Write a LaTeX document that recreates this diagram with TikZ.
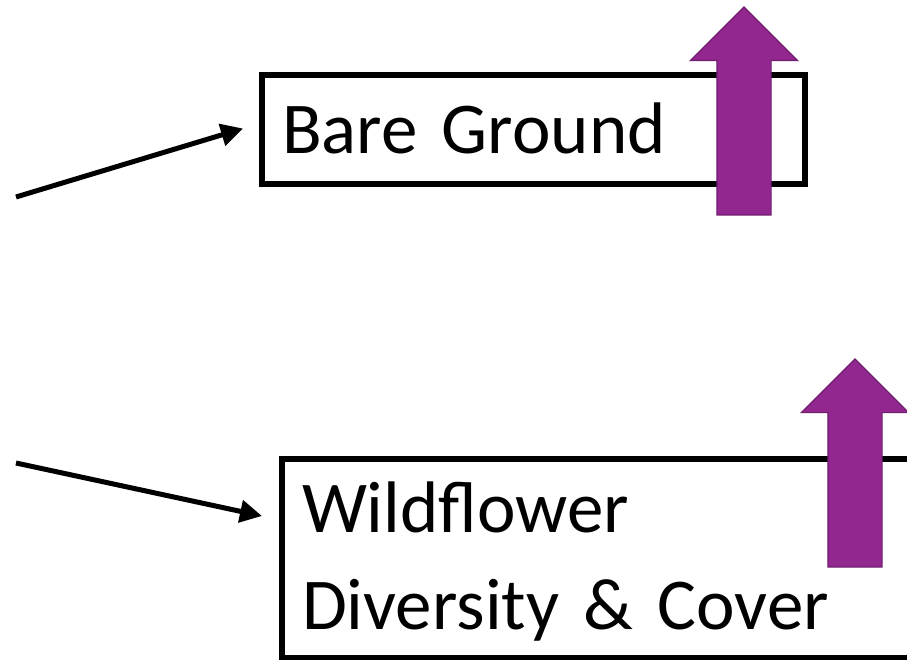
\documentclass[tikz,border=0pt]{standalone}
\usepackage{fontspec}
\setmainfont{Carlito}
\usetikzlibrary{arrows.meta,shapes.arrows}
\definecolor{trendfill}{RGB}{146,39,143}
\definecolor{trendline}{RGB}{112,30,110}
\tikzset{
  factor/.style={draw,line width=5.5pt,anchor=north west,inner xsep=20pt,outer sep=0pt,
    align=left,font=\fontsize{73}{97}\selectfont,text height=60pt},
  driver/.style={line width=5pt,-{Triangle[length=22pt,width=22pt]}},
  trend/.style={single arrow,draw=trendline,fill=trendfill,line width=1.2pt,
    rotate=90,anchor=tip,inner xsep=0pt,inner ysep=26.5pt,outer sep=0pt,
    minimum height=208pt,single arrow head extend=26.5pt,single arrow tip angle=90}
}
\begin{document}
\begin{tikzpicture}[x=1pt,y=-1pt]
\useasboundingbox (0,0) rectangle (907,660);
% response boxes
\node[factor,minimum width=543pt,minimum height=109pt,text width=503pt,
  inner ysep=19pt,text depth=11pt] (bare) at (262,75) {Bare Ground};
\node[factor,minimum width=700pt,minimum height=199pt,text width=660pt,
  inner ysep=13pt,text depth=113pt] (wild) at (282,459) {Wildflower\\Diversity \& Cover};
% incoming drivers
\coordinate (src1) at (16,197);
\coordinate (src2) at (16,463);
\coordinate (in2) at (262,516);
\draw[driver] (src1) -- ([xshift=-19pt,yshift=1pt]bare.west);
\draw[driver] (src2) -- (in2);
% increase arrows
\node[trend] (up1) at (744,7) {};
\node[trend] (up2) at (855,359) {};
\end{tikzpicture}
\end{document}
